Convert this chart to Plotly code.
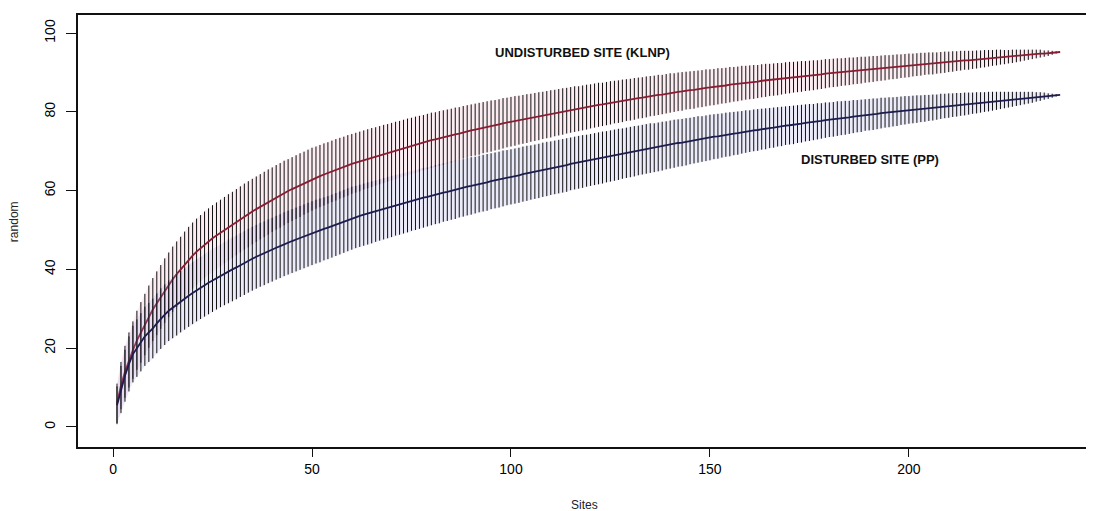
import plotly.graph_objects as go

sites = list(range(1, 239))

# mean species richness, undisturbed site (KLNP)
undisturbed = [
    6.0, 10.5, 14.0, 17.0, 19.5, 22.0, 24.0, 26.0, 28.0, 29.8,
    31.4, 33.0, 34.6, 36.1, 37.5, 38.8, 40.0, 41.2, 42.4, 43.5,
    44.5, 45.4, 46.3, 47.1, 47.9, 48.6, 49.3, 50.0, 50.7, 51.3,
    52.0, 52.7, 53.4, 54.0, 54.7, 55.3, 55.9, 56.5, 57.1, 57.7,
    58.3, 58.8, 59.4, 59.9, 60.4, 60.9, 61.4, 61.9, 62.4, 62.9,
    63.3, 63.7, 64.1, 64.5, 64.9, 65.3, 65.7, 66.0, 66.4, 66.8,
    67.1, 67.4, 67.8, 68.1, 68.4, 68.7, 69.0, 69.3, 69.6, 69.9,
    70.2, 70.5, 70.8, 71.1, 71.4, 71.7, 71.9, 72.2, 72.5, 72.8,
    73.0, 73.3, 73.5, 73.8, 74.0, 74.3, 74.5, 74.8, 75.0, 75.3,
    75.5, 75.7, 76.0, 76.2, 76.4, 76.6, 76.8, 77.1, 77.3, 77.5,
    77.7, 77.9, 78.1, 78.3, 78.5, 78.7, 78.9, 79.1, 79.3, 79.5,
    79.7, 79.9, 80.1, 80.3, 80.5, 80.7, 80.8, 81.0, 81.2, 81.4,
    81.6, 81.8, 81.9, 82.1, 82.3, 82.5, 82.6, 82.8, 83.0, 83.1,
    83.3, 83.5, 83.6, 83.8, 84.0, 84.1, 84.3, 84.4, 84.6, 84.8,
    84.9, 85.1, 85.2, 85.4, 85.5, 85.6, 85.8, 85.9, 86.1, 86.2,
    86.3, 86.5, 86.6, 86.7, 86.9, 87.0, 87.1, 87.3, 87.4, 87.5,
    87.6, 87.7, 87.9, 88.0, 88.1, 88.2, 88.3, 88.4, 88.6, 88.7,
    88.8, 88.9, 89.0, 89.1, 89.2, 89.3, 89.4, 89.5, 89.7, 89.8,
    89.9, 90.0, 90.1, 90.2, 90.3, 90.4, 90.5, 90.6, 90.7, 90.8,
    90.9, 91.0, 91.1, 91.2, 91.3, 91.4, 91.5, 91.6, 91.7, 91.8,
    91.9, 92.0, 92.1, 92.2, 92.3, 92.3, 92.4, 92.5, 92.6, 92.7,
    92.8, 92.9, 93.0, 93.1, 93.1, 93.2, 93.3, 93.4, 93.5, 93.6,
    93.7, 93.8, 93.9, 93.9, 94.0, 94.1, 94.2, 94.3, 94.4, 94.5,
    94.6, 94.7, 94.8, 94.8, 94.9, 95.0, 95.1, 95.2,
]

# half length of the bars (2 sd), undisturbed
undisturbed_ci = [
    5.0, 6.0, 6.6, 7.0, 7.3, 7.5, 7.7, 7.8, 7.9, 8.0,
    8.1, 8.1, 8.2, 8.2, 8.3, 8.3, 8.3, 8.4, 8.4, 8.4,
    8.4, 8.4, 8.4, 8.4, 8.4, 8.4, 8.4, 8.4, 8.4, 8.4,
    8.4, 8.4, 8.4, 8.4, 8.3, 8.3, 8.3, 8.3, 8.3, 8.2,
    8.2, 8.2, 8.2, 8.1, 8.1, 8.1, 8.1, 8.0, 8.0, 8.0,
    7.9, 7.9, 7.9, 7.8, 7.8, 7.8, 7.7, 7.7, 7.7, 7.6,
    7.6, 7.6, 7.5, 7.5, 7.5, 7.4, 7.4, 7.4, 7.3, 7.3,
    7.3, 7.2, 7.2, 7.2, 7.1, 7.1, 7.1, 7.0, 7.0, 7.0,
    6.9, 6.9, 6.9, 6.8, 6.8, 6.8, 6.7, 6.7, 6.7, 6.6,
    6.6, 6.6, 6.5, 6.5, 6.5, 6.4, 6.4, 6.4, 6.3, 6.3,
    6.3, 6.2, 6.2, 6.2, 6.1, 6.1, 6.1, 6.0, 6.0, 6.0,
    5.9, 5.9, 5.9, 5.8, 5.8, 5.8, 5.7, 5.7, 5.7, 5.6,
    5.6, 5.6, 5.5, 5.5, 5.5, 5.4, 5.4, 5.4, 5.3, 5.3,
    5.3, 5.2, 5.2, 5.2, 5.1, 5.1, 5.1, 5.0, 5.0, 5.0,
    4.9, 4.9, 4.9, 4.8, 4.8, 4.8, 4.7, 4.7, 4.7, 4.6,
    4.6, 4.6, 4.5, 4.5, 4.5, 4.4, 4.4, 4.4, 4.3, 4.3,
    4.3, 4.2, 4.2, 4.2, 4.1, 4.1, 4.1, 4.0, 4.0, 4.0,
    3.9, 3.9, 3.9, 3.8, 3.8, 3.8, 3.7, 3.7, 3.7, 3.6,
    3.6, 3.6, 3.5, 3.5, 3.5, 3.4, 3.4, 3.4, 3.3, 3.3,
    3.3, 3.2, 3.2, 3.2, 3.1, 3.1, 3.1, 3.0, 3.0, 3.0,
    2.9, 2.9, 2.9, 2.8, 2.8, 2.8, 2.7, 2.7, 2.7, 2.6,
    2.6, 2.5, 2.5, 2.4, 2.4, 2.3, 2.3, 2.2, 2.2, 2.1,
    2.0, 2.0, 1.9, 1.8, 1.7, 1.7, 1.6, 1.5, 1.4, 1.3,
    1.2, 1.1, 1.0, 0.8, 0.7, 0.5, 0.3, 0.0,
]

# mean species richness, disturbed site (PP)
disturbed = [
    5.5, 9.5, 13.0, 16.0, 18.5, 20.0, 21.5, 23.0, 24.0, 25.0,
    26.3, 27.5, 28.5, 29.5, 30.3, 31.0, 31.8, 32.5, 33.3, 34.0,
    34.7, 35.3, 36.0, 36.6, 37.2, 37.8, 38.4, 38.9, 39.5, 40.0,
    40.5, 41.1, 41.6, 42.2, 42.7, 43.2, 43.7, 44.1, 44.6, 45.0,
    45.5, 45.9, 46.4, 46.8, 47.2, 47.6, 48.0, 48.4, 48.8, 49.2,
    49.6, 49.9, 50.3, 50.6, 51.0, 51.4, 51.8, 52.2, 52.6, 53.0,
    53.3, 53.6, 53.9, 54.2, 54.5, 54.8, 55.1, 55.4, 55.7, 56.0,
    56.3, 56.5, 56.8, 57.1, 57.4, 57.6, 57.9, 58.2, 58.4, 58.7,
    59.0, 59.2, 59.5, 59.7, 60.0, 60.2, 60.5, 60.7, 61.0, 61.2,
    61.4, 61.7, 61.9, 62.1, 62.4, 62.6, 62.8, 63.1, 63.3, 63.5,
    63.7, 63.9, 64.2, 64.4, 64.6, 64.8, 65.0, 65.3, 65.5, 65.7,
    65.9, 66.1, 66.3, 66.5, 66.8, 67.0, 67.2, 67.4, 67.6, 67.8,
    68.0, 68.2, 68.4, 68.6, 68.8, 69.0, 69.2, 69.4, 69.6, 69.8,
    70.0, 70.2, 70.4, 70.6, 70.8, 70.9, 71.1, 71.3, 71.5, 71.7,
    71.9, 72.1, 72.2, 72.4, 72.6, 72.8, 73.0, 73.1, 73.3, 73.5,
    73.7, 73.8, 74.0, 74.2, 74.3, 74.5, 74.6, 74.8, 75.0, 75.1,
    75.3, 75.4, 75.6, 75.7, 75.9, 76.0, 76.2, 76.3, 76.5, 76.6,
    76.7, 76.9, 77.0, 77.2, 77.3, 77.4, 77.6, 77.7, 77.9, 78.0,
    78.1, 78.3, 78.4, 78.5, 78.6, 78.8, 78.9, 79.0, 79.2, 79.3,
    79.4, 79.5, 79.7, 79.8, 79.9, 80.0, 80.1, 80.3, 80.4, 80.5,
    80.6, 80.7, 80.8, 80.9, 81.0, 81.1, 81.2, 81.4, 81.5, 81.6,
    81.7, 81.8, 81.9, 82.0, 82.1, 82.2, 82.3, 82.4, 82.5, 82.6,
    82.7, 82.8, 82.9, 83.0, 83.1, 83.2, 83.3, 83.4, 83.5, 83.6,
    83.7, 83.8, 83.9, 84.0, 84.0, 84.1, 84.2, 84.3,
]

# half length of the bars (2 sd), disturbed
disturbed_ci = [
    4.8, 6.0, 6.6, 7.0, 7.2, 7.3, 7.4, 7.5, 7.5, 7.6,
    7.6, 7.7, 7.7, 7.7, 7.8, 7.8, 7.8, 7.8, 7.9, 7.9,
    7.9, 7.9, 8.0, 8.0, 8.0, 8.0, 8.0, 8.0, 8.1, 8.1,
    8.1, 8.1, 8.1, 8.1, 8.1, 8.1, 8.1, 8.1, 8.1, 8.1,
    8.1, 8.1, 8.1, 8.1, 8.1, 8.1, 8.1, 8.1, 8.1, 8.1,
    8.1, 8.1, 8.0, 8.0, 8.0, 8.0, 8.0, 8.0, 8.0, 8.0,
    7.9, 7.9, 7.9, 7.9, 7.9, 7.8, 7.8, 7.8, 7.8, 7.8,
    7.7, 7.7, 7.7, 7.7, 7.6, 7.6, 7.6, 7.6, 7.5, 7.5,
    7.5, 7.5, 7.4, 7.4, 7.4, 7.4, 7.3, 7.3, 7.3, 7.3,
    7.2, 7.2, 7.2, 7.2, 7.1, 7.1, 7.1, 7.1, 7.0, 7.0,
    7.0, 7.0, 7.0, 7.0, 6.9, 6.9, 6.9, 6.9, 6.9, 6.8,
    6.8, 6.8, 6.8, 6.8, 6.7, 6.7, 6.7, 6.7, 6.6, 6.6,
    6.6, 6.6, 6.6, 6.5, 6.5, 6.5, 6.5, 6.4, 6.4, 6.4,
    6.4, 6.3, 6.3, 6.3, 6.3, 6.2, 6.2, 6.2, 6.1, 6.1,
    6.1, 6.0, 6.0, 6.0, 5.9, 5.9, 5.9, 5.8, 5.8, 5.8,
    5.7, 5.7, 5.6, 5.6, 5.6, 5.5, 5.5, 5.4, 5.4, 5.3,
    5.3, 5.3, 5.2, 5.2, 5.1, 5.1, 5.0, 5.0, 4.9, 4.9,
    4.9, 4.8, 4.8, 4.7, 4.7, 4.6, 4.6, 4.5, 4.5, 4.4,
    4.4, 4.4, 4.3, 4.3, 4.2, 4.2, 4.1, 4.1, 4.0, 4.0,
    4.0, 3.9, 3.9, 3.8, 3.8, 3.7, 3.7, 3.6, 3.6, 3.5,
    3.5, 3.5, 3.4, 3.4, 3.3, 3.3, 3.2, 3.2, 3.1, 3.1,
    3.0, 3.0, 2.9, 2.9, 2.8, 2.7, 2.7, 2.6, 2.5, 2.5,
    2.4, 2.3, 2.2, 2.1, 2.0, 1.9, 1.8, 1.7, 1.6, 1.5,
    1.4, 1.2, 1.1, 0.9, 0.7, 0.5, 0.3, 0.0,
]

assert len(undisturbed) == len(sites) == len(disturbed)
assert len(undisturbed_ci) == len(sites) == len(disturbed_ci)

fig = go.Figure()


def add_curve(y, ci, fill_col, line_col):
    lo = [m - c for m, c in zip(y, ci)]
    hi = [m + c for m, c in zip(y, ci)]
    # shaded band
    fig.add_trace(go.Scatter(x=sites + sites[::-1], y=hi + lo[::-1], fill="toself",
                             fillcolor=fill_col, line=dict(width=0), mode="lines",
                             hoverinfo="skip", showlegend=False))
    # vertical bars
    fig.add_trace(go.Scatter(x=sites, y=y, mode="markers", marker=dict(size=1, opacity=0),
                             error_y=dict(type="data", array=ci, visible=True, width=0,
                                          thickness=1, color="#111"),
                             showlegend=False))
    fig.add_trace(go.Scatter(x=sites, y=y, mode="lines", line=dict(color=line_col, width=1.8),
                             showlegend=False))


add_curve(undisturbed, undisturbed_ci, "rgba(240,175,195,0.22)", "#8a1c32")
add_curve(disturbed, disturbed_ci, "rgba(165,165,230,0.22)", "#1c1c4e")

lbl_font = dict(family="Liberation Sans, Arial", size=13, color="#111")
fig.add_annotation(x=118, y=95.2, text="<b>UNDISTURBED SITE (KLNP)</b>", showarrow=False, font=lbl_font)
fig.add_annotation(x=190.2, y=67.8, text="<b>DISTURBED SITE (PP)</b>", showarrow=False, font=lbl_font)

# axis titles placed like the R plot
ttl_font = dict(family="Liberation Sans, Arial", size=12, color="#222")
fig.add_annotation(xref="paper", x=0, xshift=-64, xanchor="center", y=52, text="random",
                   textangle=-90, showarrow=False, font=ttl_font)
fig.add_annotation(yref="paper", y=0, yshift=-58, yanchor="middle", x=118.6, text="Sites",
                   showarrow=False, font=ttl_font)

tick_font = dict(family="Liberation Sans, Arial", size=14, color="#000")
# the page body adds an 8px offset, margins are trimmed for it
fig.update_layout(
    width=1094, height=511,
    margin=dict(l=70, r=12, t=7, b=72),
    paper_bgcolor="white", plot_bgcolor="white",
    xaxis=dict(range=[-8.8, 245.5], tickvals=[0, 50, 100, 150, 200], showgrid=False, zeroline=False,
               showline=True, linecolor="#111", linewidth=1.5, mirror=True, automargin=False,
               ticks="outside", ticklen=8, tickcolor="#111", tickwidth=1.3, tickfont=tick_font),
    yaxis=dict(range=[-5.1, 104.6], tickvals=[0, 20, 40, 60, 80, 100], showgrid=False, zeroline=False,
               showline=True, linecolor="#111", linewidth=1.5, automargin=False,
               ticks="outside", ticklen=10, tickcolor="#111", tickwidth=1.3, tickfont=tick_font,
               tickangle=-90, ticklabelstandoff=6),
)

fig.write_html("out.html")
